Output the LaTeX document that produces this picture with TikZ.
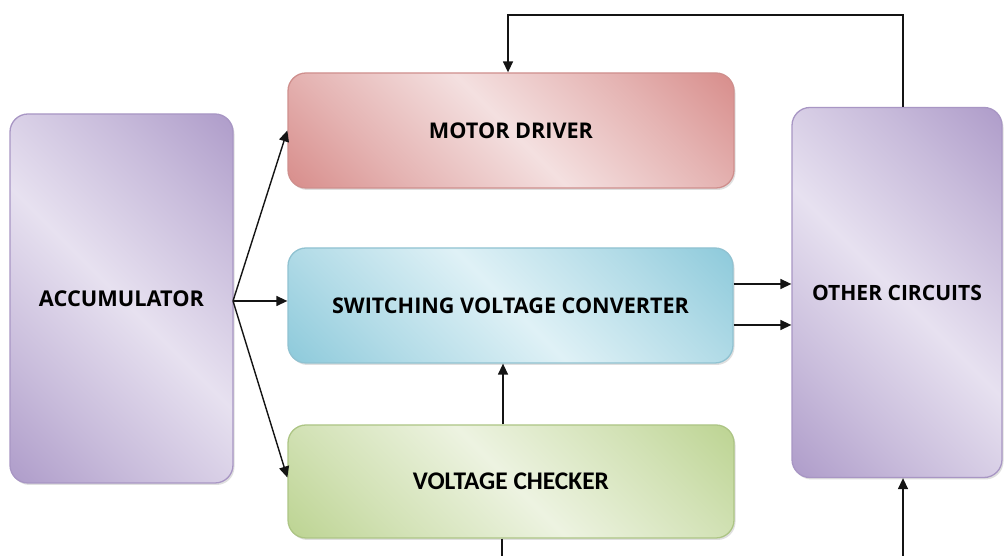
\documentclass[tikz,border=0pt]{standalone}
\usepackage{fontspec}
\setmainfont{Open Sans}
\newfontfamily\calfont{Carlito}
\usetikzlibrary{arrows.meta,calc,shadows}
\definecolor{purL}{HTML}{E7E1F0}
\definecolor{purD}{HTML}{AF9DCA}
\definecolor{purB}{HTML}{A896C4}
\definecolor{pinL}{HTML}{F4E0E0}
\definecolor{pinD}{HTML}{D88E8C}
\definecolor{pinB}{HTML}{CF8F8D}
\definecolor{cyaL}{HTML}{DFF1F6}
\definecolor{cyaD}{HTML}{8ECADB}
\definecolor{cyaB}{HTML}{90C2D1}
\definecolor{grnL}{HTML}{EDF3E1}
\definecolor{grnD}{HTML}{BDD493}
\definecolor{grnB}{HTML}{ADC585}
\definecolor{lineC}{HTML}{141414}
\pgfdeclareverticalshading{purshade}{100bp}{color(0bp)=(purD); color(15bp)=(purD); color(30bp)=(purD!55!purL); color(50bp)=(purL); color(70bp)=(purD!55!purL); color(85bp)=(purD); color(100bp)=(purD)}
\pgfdeclareverticalshading{pinshade}{100bp}{color(0bp)=(pinD); color(15bp)=(pinD); color(30bp)=(pinD!55!pinL); color(50bp)=(pinL); color(70bp)=(pinD!55!pinL); color(85bp)=(pinD); color(100bp)=(pinD)}
\pgfdeclareverticalshading{cyashade}{100bp}{color(0bp)=(cyaD); color(15bp)=(cyaD); color(30bp)=(cyaD!55!cyaL); color(50bp)=(cyaL); color(70bp)=(cyaD!55!cyaL); color(85bp)=(cyaD); color(100bp)=(cyaD)}
\pgfdeclareverticalshading{grnshade}{100bp}{color(0bp)=(grnD); color(15bp)=(grnD); color(30bp)=(grnD!55!grnL); color(50bp)=(grnL); color(70bp)=(grnD!55!grnL); color(85bp)=(grnD); color(100bp)=(grnD)}
\newcommand{\fitw}[2]{\resizebox{#1}{!}{#2}}
\tikzset{
  blockbox/.style={rectangle, rounded corners=18pt, line width=1.3pt, inner sep=0pt,
    drop shadow={shadow xshift=1.5pt, shadow yshift=-2pt, opacity=0.25},
    font=\bfseries, text=black, shading angle=-45},
  purbox/.style={blockbox, draw=purB, shading=purshade},
  pinbox/.style={blockbox, draw=pinB, shading=pinshade},
  cyabox/.style={blockbox, draw=cyaB, shading=cyashade},
  grnbox/.style={blockbox, draw=grnB, shading=grnshade},
  conn/.style={draw=lineC, line width=1.4pt},
  arr/.style={conn, -{Triangle[length=11pt,width=10pt]}}
}
\begin{document}
\begin{tikzpicture}[x=1pt,y=1pt]
\useasboundingbox (0,0) rectangle (1004,556);
\fill[white] (0,0) rectangle (1004,556);
\clip (0,0) rectangle (1004,556);
% blocks
\node[purbox, minimum width=223pt, minimum height=369pt] (acc) at (121.5,257.5) {\fitw{165pt}{ACCUMULATOR}};
\node[pinbox, minimum width=446pt, minimum height=115pt] (md) at (511,425.5) {\fitw{164pt}{MOTOR DRIVER}};
\node[cyabox, minimum width=445pt, minimum height=115pt] (svc) at (510.5,250.5) {\fitw{357pt}{SWITCHING VOLTAGE CONVERTER}};
\node[grnbox, minimum width=446pt, minimum height=113pt] (vc) at (511,74.5) {\fitw{196pt}{\calfont\bfseries VOLTAGE CHECKER}};
\node[purbox, minimum width=210pt, minimum height=370pt] (oc) at (897,263.5) {\fitw{170pt}{OTHER CIRCUITS}};
% coordinates
\coordinate (fan) at (233,255);
\coordinate (fb1) at (903,541);
\coordinate (fb2) at (508,541);
\coordinate (o1) at (0,272);
\coordinate (o2) at (0,231);
\coordinate (vcx) at (503,0);
\coordinate (b1) at (502,-20);
\coordinate (b2) at (903,-20);
% connectors
\draw[arr] (fan) -- (md.west);
\draw[arr] (fan) -- (fan -| svc.west);
\draw[arr] (fan) -- ($(vc.west)+(0,4)$);
\draw[arr] (oc.north -| fb1) -- (fb1) -- (fb2) -- (md.north -| fb2);
\draw[arr] (svc.east |- o1) -- (oc.west |- o1);
\draw[arr] (svc.east |- o2) -- (oc.west |- o2);
\draw[arr] (vc.north -| vcx) -- (svc.south -| vcx);
\draw[arr] (vc.south -| b1) -- (b1) -- (b2) -- (oc.south -| b2);
\end{tikzpicture}
\end{document}
